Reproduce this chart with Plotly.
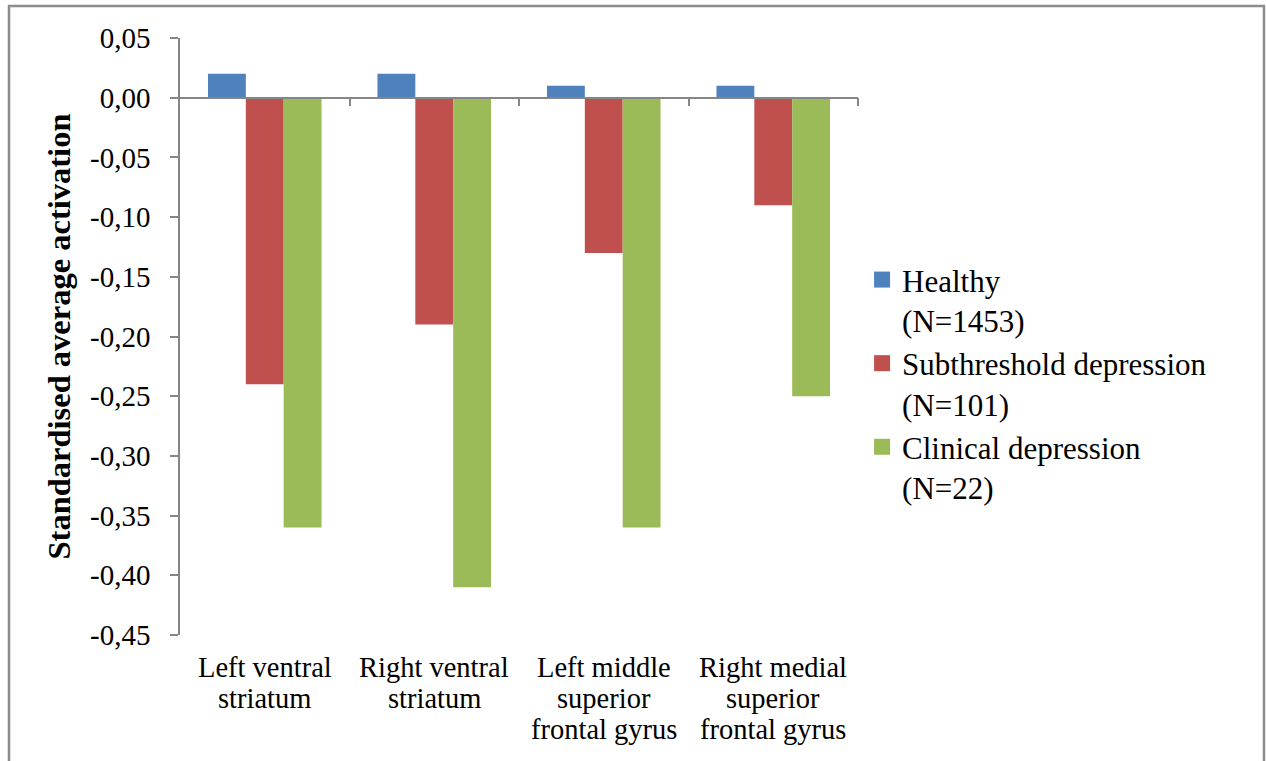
import plotly.graph_objects as go

regions = [
    "Left ventral<br>striatum",
    "Right ventral<br>striatum",
    "Left middle<br>superior<br>frontal gyrus",
    "Right medial<br>superior<br>frontal gyrus",
]
groups = ["Healthy<br>(N=1453)", "Subthreshold depression<br>(N=101)", "Clinical depression<br>(N=22)"]
healthy = [0.02, 0.02, 0.01, 0.01]
subthreshold = [-0.24, -0.19, -0.13, -0.09]
clinical = [-0.36, -0.41, -0.36, -0.25]
colors = ["#4F81BD", "#C0504D", "#9BBB59"]

y_ticks = [0.05, 0.0, -0.05, -0.10, -0.15, -0.20, -0.25, -0.30, -0.35, -0.40, -0.45]
y_ticktext = ["0,05", "0,00", "-0,05", "-0,10", "-0,15", "-0,20", "-0,25", "-0,30", "-0,35", "-0,40", "-0,45"]
y_range = [-0.45, 0.05]

serif = "Liberation Serif, Times New Roman, serif"
axis_grey = "#868686"
cat_font = 28.5
cat_line = 31  # px between category label lines

fig = go.Figure()
for name, vals, col in zip(groups, [healthy, subthreshold, clinical], colors):
    fig.add_trace(go.Bar(x=regions, y=vals, name=name, marker=dict(color=col, line=dict(width=0)),
                         showlegend=False))
    # legend entry with a larger square swatch
    fig.add_trace(go.Scatter(x=[None], y=[None], mode="markers", name=name,
                             marker=dict(symbol="square", size=16, color=col)))

# invisible anchor so the second x axis is drawn
fig.add_trace(go.Scatter(x=[None], y=[None], xaxis="x2", showlegend=False, hoverinfo="skip"))

# category labels under the plot, one annotation per line for tight line spacing
annotations = []
for reg in regions:
    for i, line in enumerate(reg.split("<br>")):
        annotations.append(dict(
            x=reg, xref="x", y=0, yref="paper", yanchor="middle", xanchor="center",
            yshift=-(32 + i * cat_line), text=line, showarrow=False,
            font=dict(family=serif, size=cat_font, color="black")))

# zero line with boundary ticks, drawn as a second x axis at y = 0
zero_pos = (0 - y_range[0]) / (y_range[1] - y_range[0])

fig.update_layout(
    width=1266, height=761,
    margin=dict(l=180, r=408, t=38, b=126),
    paper_bgcolor="white", plot_bgcolor="white",
    barmode="group", bargap=0.33, bargroupgap=0,
    font=dict(family=serif, color="black", size=29),
    xaxis=dict(showline=False, ticks="", showgrid=False, zeroline=False,
               showticklabels=False),
    xaxis2=dict(overlaying="x", anchor="free", position=zero_pos, side="bottom",
                range=[-0.5, 3.5], tickvals=[0.5, 1.5, 2.5, 3.5], showticklabels=False,
                showline=True, linecolor=axis_grey, linewidth=1.5,
                ticks="outside", ticklen=8, tickcolor=axis_grey, tickwidth=1.5,
                showgrid=False, zeroline=False),
    yaxis=dict(range=y_range, tickvals=y_ticks, ticktext=y_ticktext,
               showline=True, linecolor=axis_grey, linewidth=1.5,
               ticks="outside", ticklen=8, tickcolor=axis_grey, tickwidth=1.5,
               showgrid=False, zeroline=False, tickfont=dict(family=serif, size=29),
               ticklabelstandoff=14,
               title=dict(text="<b>Standardised average activation</b>",
                          font=dict(family=serif, size=32.5), standoff=10)),
    legend=dict(x=1.006, xanchor="left", y=0.64, yanchor="top", valign="top",
                font=dict(family=serif, size=31), bgcolor="rgba(0,0,0,0)",
                tracegroupgap=0, itemwidth=30),
    annotations=annotations,
    shapes=[dict(type="rect", xref="paper", yref="paper",
                 x0=-0.2522, x1=1.5988, y0=-0.3, y1=1.0536,
                 line=dict(color="#8C8C8C", width=2.5), fillcolor="rgba(0,0,0,0)", layer="below")],
)

fig.write_html("out.html")
